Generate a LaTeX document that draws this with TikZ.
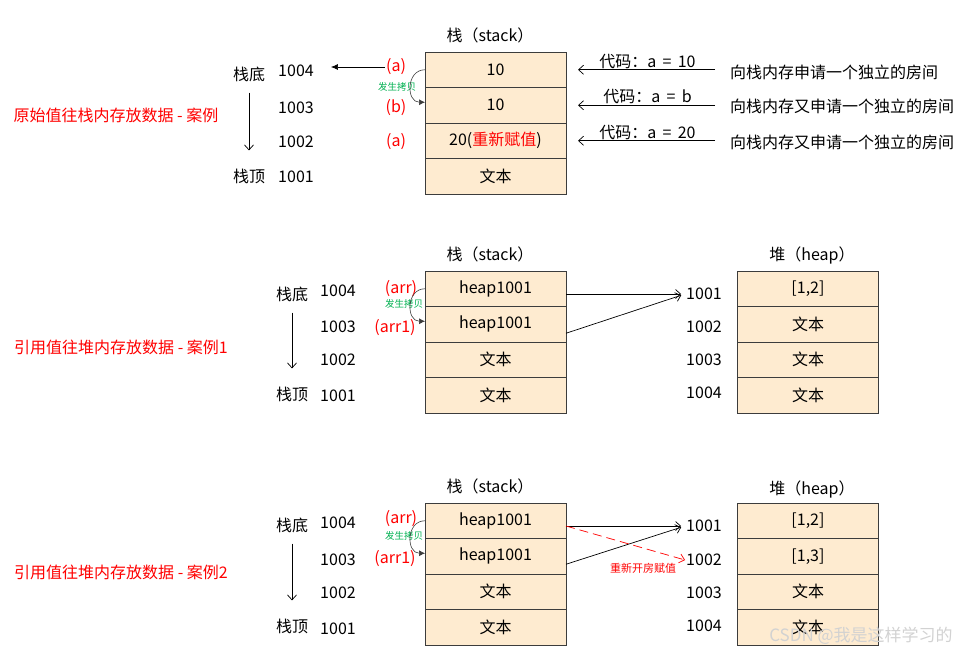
\documentclass[tikz,border=0pt]{standalone}
\usepackage{fontspec}
\setmainfont{Noto Sans CJK SC}
\usetikzlibrary{arrows.meta, positioning}
\definecolor{CellFill}{RGB}{254,235,208}
\definecolor{CellLine}{RGB}{60,60,60}
\definecolor{TagRed}{RGB}{255,0,0}
\definecolor{CopyGreen}{RGB}{0,176,80}

\begin{document}
\begin{tikzpicture}[x=1pt, y=-1pt,
    every node/.style={font=\fontsize{16}{19}\selectfont},
    cell/.style={rectangle, draw=CellLine, fill=CellFill, line width=0.8pt, minimum width=141pt, minimum height=35.5pt, inner sep=0pt, outer sep=0pt},
    plain/.style={inner sep=1pt},
    redtag/.style={inner sep=1pt, text=TagRed},
    casetext/.style={inner sep=1pt, text=TagRed},
    copytag/.style={inner sep=0pt, text=CopyGreen, font=\fontsize{9.5}{10}\selectfont},
    openarrow/.style={-{Straight Barb[length=5pt, width=9pt]}, line width=0.7pt},
    fillarrow/.style={-{Latex[length=7pt, width=6pt]}, line width=0.7pt},
    copyarc/.style={-{Latex[length=6pt, width=6pt]}, draw=CellLine, line width=0.6pt},
    redarrow/.style={-{Straight Barb[length=5pt, width=9pt]}, draw=TagRed, dash pattern=on 9pt off 5pt, line width=0.7pt}
]
\useasboundingbox (0,0) rectangle (966,654);

% case 1: primitive values on the stack
\node[casetext] (case1) at (116,115) {原始值往栈内存放数据 - 案例};
\node[plain] (st1) at (490,35) {栈（stack）};
\node[cell] (s1a) at (495.5,69.75) {10};
\node[cell, below=0pt of s1a] (s1b) {10};
\node[cell, below=0pt of s1b] (s1c) {20(\textcolor{TagRed}{重新赋值})};
\node[cell, below=0pt of s1c] (s1d) {文本};

\node[plain] (bot1) at (249,74) {栈底};
\node[plain] (top1) at (249,176) {栈顶};
\node[plain] (a1d) at (296,71) {1004};
\node[plain] (a1c) at (296,108) {1003};
\node[plain] (a1b) at (296,142) {1002};
\node[plain] (a1a) at (296,177) {1001};
\draw[openarrow, shorten <=10pt, shorten >=17pt] (bot1) -- (top1);

\node[redtag] (v1a) at (396,67) {(a)};
\node[redtag] (v1b) at (396,108) {(b)};
\node[redtag] (v1c) at (396,142) {(a)};
\draw[fillarrow, shorten >=16pt] (v1a.west) -- (v1a.west -| a1d.east);
\node[copytag] (cp1) at (397,87) {发生拷贝};
\draw[copyarc] (s1a.west) to[out=180, in=180, looseness=1.5] ([yshift=3pt]s1b.west);

\node[plain, anchor=west] (r1a) at (729,72) {向栈内存申请一个独立的房间};
\node[plain, anchor=west] (r1b) at (729,106) {向栈内存又申请一个独立的房间};
\node[plain, anchor=west] (r1c) at (729,142) {向栈内存又申请一个独立的房间};
\draw[openarrow, shorten <=14pt, shorten >=12pt] (s1a.east -| r1a.west) -- node[plain, above=0pt] (k1a) {代码：a \,= \,10} (s1a.east);
\draw[openarrow, shorten <=14pt, shorten >=12pt] (s1b.east -| r1b.west) -- node[plain, above=0pt] (k1b) {代码：a \,= \,b} (s1b.east);
\draw[openarrow, shorten <=14pt, shorten >=12pt] (s1c.east -| r1c.west) -- node[plain, above=0pt] (k1c) {代码：a \,= \,20} (s1c.east);

% case 2: reference values, heap shared
\node[casetext] (case2) at (121,347) {引用值往堆内存放数据 - 案例1};
\node[plain] (st2) at (490,254) {栈（stack）};
\node[cell] (s2a) at (495.5,288.75) {heap1001};
\node[cell, below=0pt of s2a] (s2b) {heap1001};
\node[cell, below=0pt of s2b] (s2c) {文本};
\node[cell, below=0pt of s2c] (s2d) {文本};

\node[plain] (bot2) at (292,294) {栈底};
\node[plain] (top2) at (292,394) {栈顶};
\node[plain] (a2d) at (338,291) {1004};
\node[plain] (a2c) at (338,327) {1003};
\node[plain] (a2b) at (338,360) {1002};
\node[plain] (a2a) at (338,396) {1001};
\draw[openarrow, shorten <=10pt, shorten >=17pt] (bot2) -- (top2);

\node[redtag] (v2a) at (401,289) {(arr)};
\node[redtag] (v2b) at (395,328) {(arr1)};
\node[copytag] (cp2) at (404,304) {发生拷贝};
\draw[copyarc] (s2a.west) to[out=180, in=180, looseness=1.5] ([yshift=3pt]s2b.west);

\node[plain] (ht2) at (812,255) {堆（heap）};
\node[cell] (h2a) at (808,288.75) {[1,2]};
\node[cell, below=0pt of h2a] (h2b) {文本};
\node[cell, below=0pt of h2b] (h2c) {文本};
\node[cell, below=0pt of h2c] (h2d) {文本};
\node[plain] (p2a) at (704,294) {1001};
\node[plain] (p2b) at (704,327) {1002};
\node[plain] (p2c) at (704,360) {1003};
\node[plain] (p2d) at (704,393) {1004};

\draw[openarrow, shorten >=4pt] (s2a.east |- p2a.west) -- (p2a.west);
\draw[openarrow, shorten >=4pt] ([yshift=-9pt]s2b.east) -- (p2a.west);

% case 3: reference values, heap reassigned
\node[casetext] (case3) at (121,572) {引用值往堆内存放数据 - 案例2};
\node[plain] (st3) at (490,486) {栈（stack）};
\node[cell] (s3a) at (495.5,520.75) {heap1001};
\node[cell, below=0pt of s3a] (s3b) {heap1001};
\node[cell, below=0pt of s3b] (s3c) {文本};
\node[cell, below=0pt of s3c] (s3d) {文本};

\node[plain] (bot3) at (292,525) {栈底};
\node[plain] (top3) at (292,626) {栈顶};
\node[plain] (a3d) at (338,523) {1004};
\node[plain] (a3c) at (338,560) {1003};
\node[plain] (a3b) at (338,593) {1002};
\node[plain] (a3a) at (338,629) {1001};
\draw[openarrow, shorten <=10pt, shorten >=17pt] (bot3) -- (top3);

\node[redtag] (v3a) at (401,519) {(arr)};
\node[redtag] (v3b) at (395,559) {(arr1)};
\node[copytag] (cp3) at (404,536) {发生拷贝};
\draw[copyarc] (s3a.west) to[out=180, in=180, looseness=1.5] ([yshift=3pt]s3b.west);

\node[plain] (ht3) at (812,489) {堆（heap）};
\node[cell] (h3a) at (808,520.75) {[1,2]};
\node[cell, below=0pt of h3a] (h3b) {[1,3]};
\node[cell, below=0pt of h3b] (h3c) {文本};
\node[cell, below=0pt of h3c] (h3d) {文本};
\node[plain] (p3a) at (704,526) {1001};
\node[plain] (p3b) at (704,560) {1002};
\node[plain] (p3c) at (704,593) {1003};
\node[plain] (p3d) at (704,626) {1004};

\draw[openarrow, shorten >=4pt] (s3a.east |- p3a.west) -- (p3a.west);
\draw[openarrow, shorten >=4pt] ([yshift=-8pt]s3b.east) -- (p3a.west);
\draw[redarrow] (s3a.east |- p3a.west) -- (p3b.west);
\node[redtag, font=\fontsize{11}{12}\selectfont] (re3) at (643,568) {重新开房赋值};

\node[plain, text=gray!35, font=\fontsize{17}{19}\selectfont] (wm) at (861,636) {CSDN @我是这样学习的};
\end{tikzpicture}
\end{document}
